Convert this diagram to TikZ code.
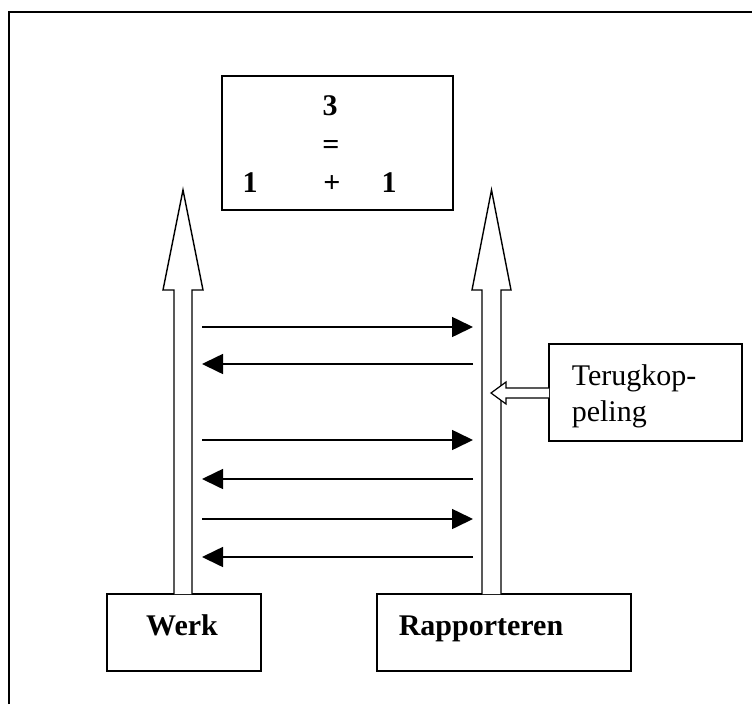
\documentclass[tikz,border=0pt]{standalone}
\usepackage{fontspec}
\setmainfont{Liberation Serif}
\usetikzlibrary{arrows.meta}
\begin{document}
\begin{tikzpicture}[x=1pt,y=-1pt,line width=1.6pt,
  box/.style={draw,line width=1.6pt,inner sep=0pt,outer sep=0pt},
  txt/.style={font=\fontsize{30}{36}\selectfont,inner sep=0pt,anchor=base west},
  btxt/.style={font=\fontsize{30}{36}\selectfont\bfseries,inner sep=0pt,anchor=base},
  blockarrow/.style={draw,fill=white,line width=1.4pt,line join=miter},
  msg/.style={line width=1.6pt,-{Triangle[length=21pt,width=20pt]}}]
\useasboundingbox (0,0) rectangle (752,704);
% outer frame (top and left sides visible)
\draw[line width=1.8pt] (9,704) -- (9,12) -- (752,12);

% boxes
\node[box,minimum width=231pt,minimum height=134pt] (sum) at (337.5,143) {};
\node[box,minimum width=154pt,minimum height=77pt] (werk) at (184,632.5) {};
\node[box,minimum width=254pt,minimum height=77pt] (rapp) at (504,632.5) {};
\node[box,minimum width=193pt,minimum height=97pt] (terug) at (645.5,392.5) {};

% texts
\node[btxt] (t3) at (330,115) {3};
\node[btxt] (teq) at (331,154) {=};
\node[btxt] (tone1) at (250,192) {1};
\node[btxt] (tplus) at (332,192) {+};
\node[btxt] (tone2) at (389,192) {1};
\node[btxt] (twerk) at (182,635) {Werk};
\node[txt,font=\fontsize{30}{36}\selectfont\bfseries] (trapp) at (398,635) {Rapporteren};
\node[txt] (tterug1) at (571,385) {Terugkop-};
\node[txt] (tterug2) at (571,421) {peling};

% block arrows
\draw[blockarrow] (174,594) -- (174,290) -- (163,290) -- (183,190) -- (203,290) -- (192,290) -- (192,594);
\draw[blockarrow] (482,594) -- (482,290) -- (472,290) -- (491.5,190) -- (511,290) -- (501,290) -- (501,594);

% message arrows
\coordinate (a1l) at (202,327); \coordinate (a1r) at (473,327);
\coordinate (a2l) at (202,364); \coordinate (a2r) at (473,364);
\coordinate (a3l) at (202,440); \coordinate (a3r) at (473,440);
\coordinate (a4l) at (202,479); \coordinate (a4r) at (473,479);
\coordinate (a5l) at (202,519); \coordinate (a5r) at (473,519);
\coordinate (a6l) at (202,557); \coordinate (a6r) at (473,557);
\draw[msg] (a1l) -- (a1r);
\draw[msg] (a2r) -- (a2l);
\draw[msg] (a3l) -- (a3r);
\draw[msg] (a4r) -- (a4l);
\draw[msg] (a5l) -- (a5r);
\draw[msg] (a6r) -- (a6l);

% feedback arrow
\draw[blockarrow,line width=1.2pt] (terug.west |- 0,388) -- (506,388) -- (506,382) -- (491,393) -- (506,404) -- (506,398) -- (terug.west |- 0,398);
\end{tikzpicture}
\end{document}
